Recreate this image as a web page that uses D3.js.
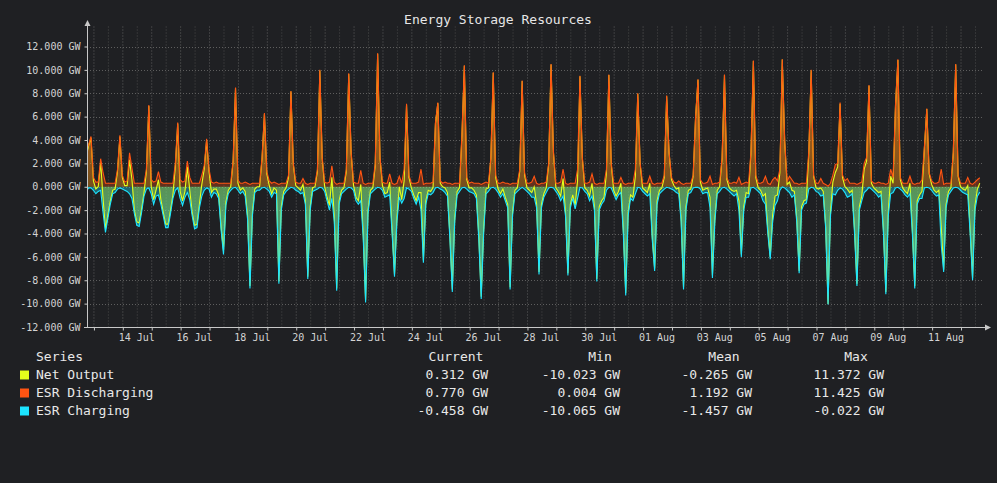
<!DOCTYPE html>
<html><head><meta charset="utf-8">
<script src="https://cdn.jsdelivr.net/npm/d3@7/dist/d3.min.js"></script>
<style>
html,body{margin:0;padding:0;background:#1f2023;}
svg{display:block;}
text{font-family:"DejaVu Sans Mono","Liberation Mono",monospace;}
</style></head><body>
<svg id="chart" width="997" height="483"></svg>
<script>
// ---------------- DATA ----------------
const chartTitle = "Energy Storage Resources";
const sampleStart = "2024-07-12T18:00:00Z";   // first sample time
const sampleStepHours = 2;
const viewStart = "2024-07-12T18:40:00Z";
const viewDays = 31;

// GW, one row per day (12 two-hour samples)
const esrDischarging = [
3.0,3.6,4.3,0.8,0.4,0.4,2.4,1.2,0.3,0.3,0.3,0.3,
0.3,1.5,4.4,1.0,0.4,0.5,2.9,1.6,0.3,0.3,0.3,0.3,
0.3,1.5,7.0,0.6,0.4,0.5,1.3,0.4,0.3,0.3,0.3,0.3,
0.3,2.0,5.5,0.6,0.4,0.5,2.2,0.8,0.3,0.3,0.3,0.3,
1.0,1.8,4.1,1.5,0.4,0.3,0.4,0.3,0.3,0.3,0.3,0.3,
0.3,2.3,8.5,0.6,0.3,0.3,0.4,0.3,0.2,0.3,0.3,0.3,
0.3,2.5,6.3,1.3,0.5,0.3,0.4,0.3,0.2,0.3,0.3,0.3,
1.0,8.2,2.0,0.4,0.3,0.3,0.7,0.3,0.2,0.3,0.3,0.3,
1.5,10.0,2.5,0.4,0.3,0.4,1.8,0.4,0.2,0.3,0.3,0.3,
1.5,9.7,3.0,0.4,0.3,0.3,1.4,0.3,0.2,0.3,0.3,0.3,
2.0,11.425,2.5,0.4,0.3,0.3,1.1,0.3,0.2,0.3,0.9,0.3,
1.5,7.1,1.0,0.3,0.3,0.3,0.4,1.5,0.2,0.3,0.3,0.3,
0.4,5.5,7.2,0.5,0.3,0.4,0.3,0.3,0.2,0.3,0.3,0.3,
4.5,10.4,0.8,0.3,0.4,0.3,0.3,0.3,0.2,0.3,0.4,0.3,
2.5,9.8,1.0,0.3,0.3,0.4,0.3,0.3,0.2,0.3,0.3,0.3,
1.5,9.1,1.2,0.3,0.3,0.4,0.9,0.3,0.2,0.3,0.3,0.4,
2.0,10.5,3.0,0.3,0.3,0.4,1.5,0.3,0.2,0.3,0.3,0.3,
1.5,9.5,2.5,0.3,0.3,0.4,1.1,0.3,0.2,0.3,0.3,0.3,
1.5,9.6,2.0,0.3,0.3,0.3,0.8,0.3,0.2,0.3,0.3,0.3,
1.5,8.0,2.0,0.3,0.3,0.3,0.9,0.3,0.2,0.3,0.3,0.3,
1.0,7.8,3.0,0.8,0.4,0.3,0.5,0.3,0.2,0.3,0.3,0.3,
1.0,6.0,9.2,0.6,0.3,0.3,0.4,0.9,0.2,0.3,0.3,0.4,
2.5,9.6,0.8,0.3,0.3,0.4,0.3,0.8,0.2,0.3,0.4,0.3,
3.0,10.8,1.0,0.3,0.3,0.4,0.9,0.3,0.2,0.6,0.8,0.5,
1.5,10.9,4.0,0.5,0.9,0.6,0.3,0.3,0.2,0.3,0.3,0.3,
3.0,10.0,1.0,0.3,0.3,0.7,0.3,0.2,0.042,0.3,1.0,1.9,
2.0,7.2,1.0,0.5,0.7,0.3,0.3,0.3,0.2,0.3,0.4,2.0,
2.5,8.7,0.5,0.3,0.3,0.4,0.3,0.3,0.2,0.3,1.5,0.8,
7.0,10.9,0.8,0.3,0.3,0.3,0.9,0.3,0.2,0.3,0.3,0.6,
3.4,6.7,1.2,0.5,0.3,0.3,0.4,1.5,0.2,0.3,0.3,0.3,
3.0,10.5,1.0,0.3,0.3,0.3,0.8,0.3,0.2,0.4,0.6,0.77
];

const esrCharging = [
-0.4,-0.1,-0.1,-0.3,-0.6,-0.4,-0.3,-2.2,-3.9,-2.7,-1.5,-0.6,
-0.5,-0.2,-0.1,-0.2,-0.3,-0.4,-0.6,-1.0,-2.3,-3.3,-3.4,-2.2,
-0.8,-0.2,-0.1,-0.6,-1.5,-0.8,-0.7,-1.5,-2.5,-3.5,-3.5,-2.3,
-1.0,-0.3,-0.1,-1.0,-1.6,-0.9,-0.5,-1.1,-2.5,-3.6,-3.5,-1.8,
-0.8,-0.3,-0.1,-0.2,-0.9,-0.5,-0.6,-1.0,-3.7,-5.8,-1.6,-0.6,
-0.3,-0.1,-0.05,-0.3,-0.6,-0.4,-0.8,-2.8,-8.7,-2.5,-0.5,-0.3,
-0.3,-0.1,-0.05,-0.2,-0.4,-0.9,-0.5,-0.6,-8.3,-2.0,-0.7,-0.4,
-0.2,-0.05,-0.1,-0.3,-0.4,-0.6,-0.5,-1.5,-7.9,-2.0,-0.4,-0.3,
-0.2,-0.05,-0.1,-0.4,-1.2,-2.0,-1.0,-3.0,-8.9,-1.5,-0.6,-0.4,
-0.2,-0.05,-0.1,-0.3,-1.2,-1.5,-1.2,-4.3,-9.9,-2.3,-0.6,-0.4,
-0.2,-0.05,-0.1,-0.3,-0.9,-0.8,-0.7,-4.0,-7.7,-3.0,-0.9,-1.4,
-1.0,-0.1,-0.2,-0.4,-1.0,-1.5,-0.9,-2.0,-6.5,-1.5,-0.6,-0.7,
-0.5,-0.1,-0.05,-0.2,-0.3,-0.5,-0.8,-4.5,-9.0,-3.0,-0.7,-0.4,
-0.1,-0.05,-0.2,-0.4,-0.5,-0.6,-1.0,-4.5,-9.6,-4.0,-0.6,-0.4,
-0.1,-0.05,-0.2,-0.5,-0.9,-0.6,-1.2,-1.8,-8.8,-2.5,-0.6,-0.4,
-0.2,-0.05,-0.2,-0.4,-0.6,-0.9,-0.9,-1.8,-7.5,-1.8,-0.9,-0.5,
-0.1,-0.05,-0.1,-0.4,-0.7,-1.2,-0.8,-2.5,-7.6,-1.8,-1.0,-1.9,
-1.0,-0.05,-0.1,-0.4,-0.6,-1.2,-0.8,-2.0,-8.1,-2.0,-1.5,-1.2,
-0.3,-0.05,-0.1,-0.6,-1.1,-0.7,-0.5,-4.0,-9.3,-2.5,-1.0,-1.2,
-0.6,-0.05,-0.1,-0.4,-0.6,-0.8,-0.6,-4.5,-7.2,-1.5,-0.6,-0.4,
-0.2,-0.05,-0.1,-0.2,-0.3,-0.5,-0.6,-3.0,-8.8,-2.0,-0.6,-0.5,
-0.1,-0.05,-0.05,-0.2,-0.6,-0.5,-0.5,-1.8,-7.8,-3.0,-0.6,-0.4,
-0.1,-0.05,-0.2,-0.4,-0.6,-0.8,-0.6,-2.0,-6.0,-2.0,-0.9,-0.9,
-0.1,-0.05,-0.2,-0.4,-0.6,-1.2,-1.5,-4.0,-6.2,-3.0,-1.6,-1.2,
-0.3,-0.022,-0.1,-0.3,-0.5,-0.9,-0.7,-3.0,-7.4,-2.0,-1.5,-1.4,
-0.2,-0.05,-0.1,-0.4,-0.5,-0.8,-0.7,-3.5,-10.065,-2.5,-0.6,-0.7,
-0.3,-0.1,-0.2,-0.5,-0.9,-0.8,-0.6,-4.0,-8.5,-2.0,-1.2,-0.5,
-0.3,-0.05,-0.2,-0.4,-0.6,-0.9,-0.7,-4.0,-9.2,-2.5,-0.6,-0.5,
-0.1,-0.05,-0.2,-0.4,-0.7,-0.9,-0.6,-4.0,-8.7,-1.5,-1.0,-1.0,
-0.1,-0.05,-0.1,-0.3,-0.6,-0.8,-0.7,-5.0,-7.3,-1.8,-0.7,-0.4,
-0.1,-0.05,-0.1,-0.3,-0.5,-0.6,-0.7,-4.0,-8.0,-2.0,-0.8,-0.458
];

const netOutput = [
2.6,3.5,4.2,0.5,-0.2,0.0,2.1,-1.0,-3.6,-2.4,-1.2,-0.3,
-0.2,1.3,4.3,0.8,0.1,0.1,2.3,0.6,-2.0,-3.0,-3.1,-1.9,
-0.5,1.3,6.9,0.0,-1.1,-0.3,0.6,-1.1,-2.2,-3.2,-3.2,-2.0,
-0.7,1.7,5.4,-0.4,-1.2,-0.4,1.7,-0.3,-2.2,-3.3,-3.2,-1.5,
0.2,1.5,4.0,1.3,-0.5,-0.2,-0.2,-0.7,-3.4,-5.5,-1.3,-0.3,
0.0,2.2,8.45,0.3,-0.3,-0.1,-0.4,-2.5,-8.5,-2.2,-0.2,0.0,
0.0,2.4,6.25,1.1,0.1,-0.6,-0.1,-0.3,-8.1,-1.7,-0.4,-0.1,
0.8,8.15,1.9,0.1,-0.1,-0.3,0.2,-1.2,-7.7,-1.7,-0.1,0.0,
1.3,9.95,2.4,0.0,-0.9,-1.6,0.8,-2.6,-8.7,-1.2,-0.3,-0.1,
1.3,9.65,2.9,0.1,-0.9,-1.2,0.2,-4.0,-9.7,-2.0,-0.3,-0.1,
1.8,11.372,2.4,0.1,-0.6,-0.5,0.4,-3.7,-7.5,-2.7,0.0,-1.1,
0.5,7.0,0.8,-0.1,-0.7,-1.2,-0.5,-0.5,-6.3,-1.2,-0.3,-0.4,
-0.1,5.4,7.15,0.3,0.0,-0.1,-0.5,-4.2,-8.8,-2.7,-0.4,-0.1,
4.4,10.35,0.6,-0.1,-0.1,-0.3,-0.7,-4.2,-9.4,-3.7,-0.2,-0.1,
2.4,9.75,0.8,-0.2,-0.6,-0.2,-0.9,-1.5,-8.6,-2.2,-0.3,-0.1,
1.3,9.05,1.0,-0.1,-0.3,-0.5,0.0,-1.5,-7.3,-1.5,-0.6,-0.1,
1.9,10.45,2.9,-0.1,-0.4,-0.8,0.7,-2.2,-7.4,-1.5,-0.7,-1.6,
0.5,9.45,2.4,-0.1,-0.3,-0.8,0.3,-1.7,-7.9,-1.7,-1.2,-0.9,
1.2,9.55,1.9,-0.3,-0.8,-0.4,0.3,-3.7,-9.1,-2.2,-0.7,-0.9,
0.9,7.95,1.9,-0.1,-0.3,-0.5,0.3,-4.2,-7.0,-1.2,-0.3,-0.1,
0.8,7.75,2.9,0.6,0.1,-0.2,-0.1,-2.7,-8.6,-1.7,-0.3,-0.2,
0.9,5.95,9.15,0.4,-0.3,-0.2,-0.1,-0.9,-7.6,-2.7,-0.3,0.0,
2.4,9.55,0.6,-0.1,-0.3,-0.4,-0.3,-1.2,-5.8,-1.7,-0.5,-0.6,
2.9,10.75,0.8,-0.1,-0.3,-0.8,-0.6,-3.7,-6.0,-2.4,-0.8,-0.7,
1.2,10.88,3.9,0.2,0.4,-0.3,-0.4,-2.7,-7.2,-1.7,-1.2,-1.1,
2.8,9.95,0.9,-0.1,-0.2,-0.1,-0.4,-3.3,-10.023,-2.2,0.4,1.2,
1.7,7.1,0.8,0.0,-0.2,-0.5,-0.3,-3.7,-8.3,-1.7,-0.8,1.5,
2.2,8.65,0.3,-0.1,-0.3,-0.5,-0.4,-3.7,-9.0,-2.2,0.9,0.3,
6.9,10.85,0.6,-0.1,-0.4,-0.6,0.3,-3.7,-8.5,-1.2,-0.7,-0.4,
3.3,6.65,1.1,0.2,-0.3,-0.5,-0.3,-3.5,-7.1,-1.5,-0.4,-0.1,
2.9,10.45,0.9,0.0,-0.2,-0.3,0.1,-3.7,-7.8,-1.6,-0.2,0.312
];

const seriesNames = ["Net Output", "ESR Discharging", "ESR Charging"];
const statHeaders = ["Current", "Min", "Mean", "Max"];
const statCurrent = [0.312, 0.770, -0.458];
const statMin     = [-10.023, 0.004, -10.065];
const statMean    = [-0.265, 1.192, -1.457];
const statMax     = [11.372, 11.425, -0.022];
const yTickValues = [-12, -10, -8, -6, -4, -2, 0, 2, 4, 6, 8, 10, 12];
const xLabelDays = ["2024-07-14","2024-07-16","2024-07-18","2024-07-20","2024-07-22",
  "2024-07-24","2024-07-26","2024-07-28","2024-07-30","2024-08-01","2024-08-03",
  "2024-08-05","2024-08-07","2024-08-09","2024-08-11"];

// ---------------- STYLE ----------------
const colors = { net: "#e4ff1c", dis: "#ff5412", chg: "#1ce4ff" };
const bg = "#1f2023";
const axisColor = "#c8c8c8";
const textColor = "#d4d4d4";
const gridMajor = "#5e5e5e";
const gridMinor = "#4a4a4a";
const plot = { left: 87, right: 983, top: 26.5, bottom: 327 };

// ---------------- CHART ----------------
const svg = d3.select("#chart");
svg.append("rect").attr("width", 997).attr("height", 483).attr("fill", bg);

const t0 = d3.isoParse(sampleStart);
const v0 = d3.isoParse(viewStart);
const v1 = d3.utcDay.offset(v0, viewDays);
const timeAt = i => new Date(t0.getTime() + i * sampleStepHours * 3600e3);

const x = d3.scaleUtc().domain([v0, v1]).range([plot.left, plot.right]);
const y = d3.scaleLinear().domain([-12, 12]).range([plot.bottom, 46.5]);

const defs = svg.append("defs");
defs.append("clipPath").attr("id", "clip").append("rect")
  .attr("x", plot.left).attr("y", plot.top)
  .attr("width", plot.right - plot.left).attr("height", plot.bottom - plot.top);

function vgrad(id, color, y1, y2, o1, o2) {
  const g = defs.append("linearGradient").attr("id", id)
    .attr("gradientUnits", "userSpaceOnUse")
    .attr("x1", 0).attr("x2", 0).attr("y1", y1).attr("y2", y2);
  g.append("stop").attr("offset", 0).attr("stop-color", color).attr("stop-opacity", o1);
  g.append("stop").attr("offset", 1).attr("stop-color", color).attr("stop-opacity", o2);
}
vgrad("gDis", colors.dis, y(0), y(11), 0.3, 0.75);
vgrad("gChg", colors.chg, y(0), y(-10), 0.35, 0.75);
vgrad("gNetP", colors.net, y(0), y(11), 0.15, 0.2);
vgrad("gNetN", colors.net, y(0), y(-10), 0.3, 0.12);

// grid
const grid = svg.append("g");
const halfDays = d3.utcHour.every(12).range(v0, v1);
grid.selectAll("line.v").data(halfDays).join("line")
  .attr("x1", d => x(d) + 0.5).attr("x2", d => x(d) + 0.5)
  .attr("y1", plot.top).attr("y2", plot.bottom)
  .attr("stroke", d => d.getUTCHours() === 0 ? gridMajor : gridMinor)
  .attr("stroke-width", 1).attr("stroke-dasharray", "1,2");
grid.selectAll("line.h").data(yTickValues).join("line")
  .attr("x1", plot.left).attr("x2", plot.right)
  .attr("y1", d => Math.round(y(d)) + 0.5).attr("y2", d => Math.round(y(d)) + 0.5)
  .attr("stroke", gridMajor).attr("stroke-width", 1).attr("stroke-dasharray", "1,2");

// areas + lines
const layer = svg.append("g").attr("clip-path", "url(#clip)");
const area = arr => d3.area().x((d, i) => x(timeAt(i))).y0(y(0)).y1(d => y(d))(arr);
const line = arr => d3.line().x((d, i) => x(timeAt(i))).y(d => y(d))(arr);

layer.append("path").attr("d", area(esrCharging)).attr("fill", "url(#gChg)");
layer.append("path").attr("d", area(esrDischarging)).attr("fill", "url(#gDis)");
const netPos = netOutput.map(v => Math.max(v, 0));
const netNeg = netOutput.map(v => Math.min(v, 0));
layer.append("path").attr("d", area(netPos)).attr("fill", "url(#gNetP)");
layer.append("path").attr("d", area(netNeg)).attr("fill", "url(#gNetN)");

layer.append("path").attr("d", line(netOutput)).attr("fill", "none")
  .attr("stroke", colors.net).attr("stroke-width", 1.1);
layer.append("path").attr("d", line(esrDischarging)).attr("fill", "none")
  .attr("stroke", colors.dis).attr("stroke-width", 1.1);
layer.append("path").attr("d", line(esrCharging)).attr("fill", "none")
  .attr("stroke", colors.chg).attr("stroke-width", 1.1);

// axes
const fmt3 = d3.format(".3f");
const fmt = v => fmt3(v).replace("\u2212", "-");
const yAxis = d3.axisLeft(y).tickValues(yTickValues).tickFormat(d => fmt(d) + " GW")
  .tickSize(3).tickPadding(4).tickSizeOuter(0);
const gy = svg.append("g").attr("transform", `translate(${plot.left + 0.5},0)`).call(yAxis);
gy.select(".domain").remove();
gy.selectAll(".tick line").attr("stroke", axisColor);
gy.selectAll(".tick text").attr("fill", textColor).attr("font-size", 10)
  .attr("font-family", "DejaVu Sans Mono, monospace");

const midnights = d3.utcDay.every(1).range(v0, v1);
const xAxis = d3.axisBottom(x).tickValues(midnights).tickFormat("").tickSize(3).tickSizeOuter(0);
const gx = svg.append("g").attr("transform", `translate(0.5,${plot.bottom + 0.5})`).call(xAxis);
gx.select(".domain").remove();
gx.selectAll(".tick line").attr("stroke", axisColor);

const labelFmt = d3.utcFormat("%d %b");
svg.append("g").selectAll("text").data(xLabelDays.map(s => d3.isoParse(s + "T12:00:00Z"))).join("text")
  .attr("x", d => x(d)).attr("y", 341).attr("text-anchor", "middle")
  .attr("font-size", 10).attr("fill", textColor).text(d => labelFmt(d));

// axis lines & arrows
svg.append("line").attr("x1", plot.left + 0.5).attr("x2", plot.left + 0.5)
  .attr("y1", 25).attr("y2", plot.bottom + 1).attr("stroke", axisColor).attr("stroke-width", 1);
svg.append("path").attr("d", `M${plot.left + 0.5 - 3},26 L${plot.left + 0.5 + 3},26 L${plot.left + 0.5},20 Z`)
  .attr("fill", axisColor);
svg.append("line").attr("x1", plot.left - 3).attr("x2", plot.right + 2)
  .attr("y1", plot.bottom + 0.5).attr("y2", plot.bottom + 0.5).attr("stroke", axisColor).attr("stroke-width", 1);
svg.append("path").attr("d", `M${plot.right + 2},${plot.bottom + 0.5 - 3} L${plot.right + 2},${plot.bottom + 0.5 + 3} L${plot.right + 8},${plot.bottom + 0.5} Z`)
  .attr("fill", axisColor);

// title
svg.append("text").attr("x", 498).attr("y", 24).attr("text-anchor", "middle")
  .attr("font-size", 13).attr("fill", "#e6e6e6").text(chartTitle);

// legend
const leg = svg.append("g").attr("font-size", 13).attr("fill", "#e8e8e8");
const rowBase = [379, 397, 415];
const colEnd = [488, 620, 752, 884];
const headCenter = [456, 600, 724, 856];
leg.append("text").attr("x", 36).attr("y", 361).text("Series");
statHeaders.forEach((h, k) => leg.append("text").attr("x", headCenter[k]).attr("y", 361)
  .attr("text-anchor", "middle").text(h));
const legColors = [colors.net, colors.dis, colors.chg];
const statCols = [statCurrent, statMin, statMean, statMax];
seriesNames.forEach((name, r) => {
  leg.append("rect").attr("x", 20).attr("y", rowBase[r] - 8.5).attr("width", 9).attr("height", 9)
    .attr("fill", legColors[r]);
  leg.append("text").attr("x", 36).attr("y", rowBase[r]).text(name);
  statCols.forEach((col, k) => leg.append("text").attr("x", colEnd[k]).attr("y", rowBase[r])
    .attr("text-anchor", "end").text(fmt(col[r]) + " GW"));
});
</script>
</body></html>
